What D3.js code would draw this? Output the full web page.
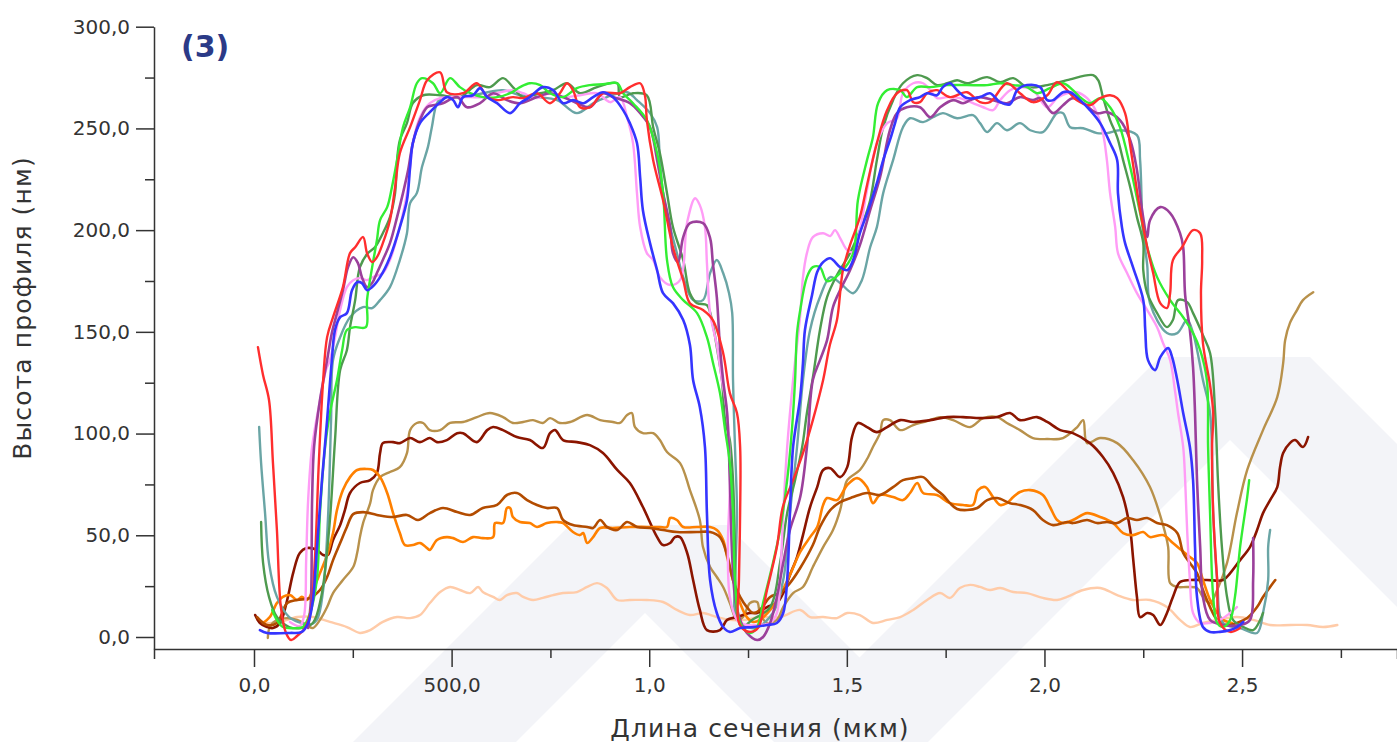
<!DOCTYPE html>
<html><head><meta charset="utf-8">
<style>
    body { margin: 0; background: #fff; font-family: "DejaVu Sans", sans-serif; }
    svg { display: block; }
    .axis text { font-size: 20px; fill: #333; font-family: "DejaVu Sans", sans-serif; }
    .axis path, .axis line { stroke: #333; stroke-width: 1.5; }
    .title { font-size: 25px; fill: #333; letter-spacing: 1.1px; }
</style>
<script src="https://cdn.jsdelivr.net/npm/d3@7"></script>
</head>
<body>
<svg id="chart"></svg>
<script>
// axis ticks
const xMajor = [0, 0.5, 1, 1.5, 2, 2.5]
const xLabels = ["0,0", "500,0", "1,0", "1,5", "2,0", "2,5"]
const xMinor = [0.25, 0.75, 1.25, 1.75, 2.25, 2.75]
const yMajor = [0, 50, 100, 150, 200, 250, 300]
const yLabels = ["0,0", "50,0", "100,0", "150,0", "200,0", "250,0", "300,0"]
const yMinor = [25, 75, 125, 175, 225, 275]

// profiles: [length (um), height (nm)]
const peach = [[0.008,8.4],[0.033,6.9],[0.066,7.4],[0.109,9.8],[0.149,9.8],[0.192,7.4],[0.235,4.9],[0.268,2.0],[0.294,3.4],[0.326,7.4],[0.362,9.8],[0.395,9.3],[0.420,10.8],[0.445,16.7],[0.471,22.1],[0.496,24.6],[0.521,23.1],[0.547,21.6],[0.567,24.6],[0.579,22.1],[0.605,19.7],[0.622,18.2],[0.640,20.6],[0.665,21.6],[0.681,19.7],[0.706,18.2],[0.731,19.2],[0.757,20.6],[0.782,21.6],[0.817,22.1],[0.843,24.6],[0.868,26.5],[0.893,24.1],[0.919,18.2],[0.951,18.2],[0.994,18.2],[1.035,17.2],[1.070,13.3],[1.103,10.8],[1.136,11.8],[1.171,9.8],[1.204,8.4],[1.242,8.4],[1.280,9.8],[1.331,9.8],[1.382,13.3],[1.407,9.8],[1.440,9.8],[1.475,9.3],[1.501,11.8],[1.533,10.8],[1.566,6.9],[1.602,8.4],[1.635,9.8],[1.668,13.3],[1.703,18.2],[1.736,21.6],[1.761,19.2],[1.786,24.1],[1.812,25.6],[1.837,24.6],[1.862,23.1],[1.888,24.1],[1.921,22.1],[1.956,21.6],[1.996,19.2],[2.032,18.2],[2.057,19.7],[2.098,23.1],[2.141,24.1],[2.184,20.6],[2.224,18.2],[2.267,18.2],[2.310,14.7],[2.343,8.4],[2.368,4.9],[2.401,6.9],[2.437,8.4],[2.487,9.8],[2.528,8.4],[2.571,5.9],[2.622,5.9],[2.665,5.9],[2.705,4.9],[2.741,5.9]]

const tan = [[0.035,-0.5],[0.040,4.9],[0.058,8.4],[0.084,9.3],[0.109,8.4],[0.134,5.9],[0.149,4.4],[0.167,8.4],[0.185,14.7],[0.200,21.6],[0.225,28.0],[0.251,34.4],[0.261,41.3],[0.268,49.1],[0.276,56.0],[0.294,65.8],[0.301,72.2],[0.319,78.6],[0.344,81.1],[0.369,83.5],[0.387,90.4],[0.395,101.7],[0.412,105.2],[0.428,105.2],[0.445,101.7],[0.471,101.7],[0.496,105.2],[0.529,105.7],[0.564,108.1],[0.597,110.1],[0.630,108.1],[0.655,105.2],[0.681,105.7],[0.706,106.6],[0.731,105.2],[0.749,107.6],[0.774,105.2],[0.800,105.7],[0.843,109.1],[0.876,106.6],[0.908,105.7],[0.926,105.2],[0.944,109.1],[0.956,110.1],[0.964,103.2],[0.984,100.2],[1.010,100.2],[1.027,96.8],[1.045,90.9],[1.078,85.5],[1.103,72.2],[1.128,57.5],[1.136,44.2],[1.154,34.4],[1.171,29.5],[1.187,24.6],[1.204,16.7],[1.222,8.4],[1.237,9.8],[1.255,16.7],[1.273,17.2],[1.280,11.8],[1.298,6.9],[1.323,8.4],[1.339,14.7],[1.364,21.6],[1.389,24.6],[1.414,34.4],[1.440,44.2],[1.465,52.6],[1.483,62.4],[1.490,68.8],[1.501,77.1],[1.533,82.1],[1.554,88.5],[1.566,93.4],[1.584,100.2],[1.592,106.6],[1.609,106.6],[1.635,101.7],[1.668,104.2],[1.703,106.1],[1.736,108.1],[1.769,106.6],[1.812,103.2],[1.845,107.6],[1.880,108.1],[1.905,105.2],[1.938,101.7],[1.971,97.8],[2.007,97.3],[2.047,97.8],[2.083,103.2],[2.098,106.6],[2.108,95.3],[2.141,97.8],[2.184,95.3],[2.224,87.0],[2.267,73.7],[2.300,55.0],[2.313,44.2],[2.318,26.5],[2.336,24.6],[2.361,24.6],[2.386,24.1],[2.401,19.7],[2.419,16.7],[2.437,23.1],[2.462,36.4],[2.487,60.9],[2.513,82.1],[2.553,101.7],[2.589,117.9],[2.604,134.6],[2.609,145.9],[2.621,154.3],[2.639,160.7],[2.654,165.6],[2.680,169.5]]

const maroon = [[0.003,10.8],[0.015,6.9],[0.033,4.9],[0.048,4.4],[0.066,6.9],[0.084,18.2],[0.099,31.4],[0.116,41.3],[0.134,43.7],[0.159,42.8],[0.175,40.3],[0.187,40.3],[0.200,47.7],[0.218,55.0],[0.230,62.4],[0.243,70.8],[0.268,75.7],[0.294,77.1],[0.311,80.6],[0.319,90.4],[0.326,95.3],[0.352,95.8],[0.369,95.3],[0.395,97.8],[0.420,95.8],[0.445,97.8],[0.463,95.8],[0.488,96.8],[0.514,100.2],[0.529,100.2],[0.564,95.8],[0.590,101.7],[0.605,103.2],[0.630,101.7],[0.665,98.3],[0.698,96.8],[0.731,92.9],[0.749,100.2],[0.762,101.7],[0.782,96.8],[0.817,95.8],[0.850,94.3],[0.883,90.4],[0.919,82.1],[0.951,75.7],[0.984,63.9],[1.020,49.1],[1.035,45.2],[1.053,46.2],[1.065,49.1],[1.078,49.1],[1.096,41.3],[1.111,28.0],[1.128,13.3],[1.146,3.4],[1.179,3.4],[1.197,8.4],[1.222,9.8],[1.255,11.8],[1.273,11.8],[1.298,14.7],[1.323,16.7],[1.339,21.6],[1.356,30.5],[1.374,39.3],[1.389,50.1],[1.407,63.9],[1.425,73.7],[1.440,82.1],[1.458,83.0],[1.483,78.6],[1.501,83.5],[1.513,98.3],[1.528,105.2],[1.551,103.2],[1.576,100.7],[1.602,103.2],[1.635,106.6],[1.668,105.7],[1.711,106.6],[1.754,108.1],[1.794,108.1],[1.837,107.6],[1.880,108.1],[1.913,110.1],[1.938,106.6],[1.981,108.1],[2.007,105.7],[2.040,101.7],[2.072,100.2],[2.115,95.3],[2.148,88.5],[2.174,80.6],[2.199,68.8],[2.217,52.6],[2.224,39.3],[2.234,19.7],[2.242,9.8],[2.260,11.8],[2.275,10.8],[2.293,5.9],[2.310,11.8],[2.325,19.7],[2.343,27.0],[2.368,28.0],[2.411,28.0],[2.452,28.0],[2.470,31.4],[2.495,37.8],[2.520,44.2],[2.538,52.6],[2.553,60.9],[2.571,67.3],[2.589,73.7],[2.596,83.5],[2.604,90.4],[2.621,95.3],[2.634,96.8],[2.654,93.4],[2.667,98.3]]

const orange = [[0.023,6.9],[0.040,9.8],[0.058,16.7],[0.073,19.7],[0.091,20.6],[0.109,18.2],[0.121,19.7],[0.134,18.2],[0.149,23.1],[0.167,31.4],[0.185,40.3],[0.200,51.1],[0.210,62.4],[0.225,72.2],[0.243,78.6],[0.261,82.1],[0.286,82.6],[0.301,82.1],[0.319,78.6],[0.337,70.8],[0.352,60.9],[0.369,51.1],[0.382,45.2],[0.402,45.2],[0.420,46.2],[0.438,43.7],[0.445,42.8],[0.463,47.7],[0.488,49.1],[0.504,48.6],[0.529,46.7],[0.554,49.1],[0.579,48.6],[0.605,49.1],[0.610,56.0],[0.630,56.0],[0.640,63.4],[0.648,63.4],[0.655,59.0],[0.673,56.5],[0.698,56.0],[0.716,54.1],[0.741,56.0],[0.767,56.5],[0.782,56.0],[0.807,51.6],[0.825,50.1],[0.833,51.1],[0.843,46.2],[0.858,49.1],[0.876,53.6],[0.908,53.6],[0.951,54.1],[0.994,54.1],[1.027,54.1],[1.045,54.1],[1.053,58.5],[1.070,57.5],[1.086,54.1],[1.121,54.1],[1.154,54.1],[1.171,52.6],[1.187,47.7],[1.197,39.3],[1.212,28.0],[1.230,16.7],[1.247,9.8],[1.263,7.4],[1.280,8.4],[1.306,13.3],[1.331,20.6],[1.356,30.5],[1.382,41.8],[1.407,49.1],[1.425,54.1],[1.440,64.9],[1.450,68.3],[1.475,67.3],[1.501,74.7],[1.526,78.1],[1.551,73.7],[1.566,65.8],[1.584,69.8],[1.617,68.8],[1.642,67.3],[1.660,70.8],[1.678,75.7],[1.693,70.8],[1.728,69.8],[1.761,65.8],[1.794,64.9],[1.819,64.9],[1.832,72.2],[1.850,73.7],[1.870,68.8],[1.888,64.9],[1.905,65.8],[1.921,68.8],[1.938,71.3],[1.964,72.2],[1.996,69.8],[2.014,63.9],[2.032,57.5],[2.047,56.0],[2.072,57.5],[2.108,60.9],[2.141,59.0],[2.174,56.0],[2.199,51.1],[2.224,50.1],[2.250,51.6],[2.267,49.1],[2.300,50.1],[2.325,46.2],[2.343,43.2],[2.368,39.3],[2.386,36.4],[2.401,28.0],[2.419,18.2],[2.437,11.8],[2.452,8.4],[2.475,6.9]]

const brown = [[0.008,9.8],[0.033,5.9],[0.058,6.9],[0.084,16.7],[0.109,18.2],[0.142,19.2],[0.167,23.1],[0.185,29.5],[0.200,37.8],[0.218,46.2],[0.235,54.1],[0.251,60.4],[0.276,61.4],[0.311,60.0],[0.352,59.0],[0.387,60.0],[0.415,57.5],[0.445,60.9],[0.478,63.4],[0.514,61.4],[0.547,60.0],[0.579,63.4],[0.615,64.9],[0.640,69.8],[0.665,70.8],[0.691,67.3],[0.716,64.9],[0.741,63.4],[0.767,63.4],[0.782,57.5],[0.807,55.0],[0.843,54.1],[0.858,53.6],[0.876,57.5],[0.893,54.1],[0.919,52.6],[0.944,56.5],[0.969,54.1],[1.002,53.6],[1.035,52.6],[1.070,51.6],[1.121,51.6],[1.154,51.6],[1.179,49.1],[1.197,40.3],[1.212,28.0],[1.230,19.7],[1.247,14.7],[1.263,11.8],[1.280,13.3],[1.306,19.7],[1.331,21.6],[1.356,26.5],[1.382,33.9],[1.414,45.2],[1.432,54.1],[1.458,62.4],[1.483,66.3],[1.516,68.8],[1.551,70.8],[1.584,69.8],[1.617,73.7],[1.642,77.1],[1.668,78.1],[1.693,78.6],[1.718,73.7],[1.743,69.8],[1.761,65.8],[1.779,62.9],[1.804,62.4],[1.830,63.4],[1.855,67.3],[1.880,68.3],[1.913,65.8],[1.938,64.9],[1.971,62.4],[1.996,57.5],[2.022,55.0],[2.057,56.5],[2.072,56.0],[2.108,57.5],[2.133,56.0],[2.158,56.5],[2.184,56.0],[2.209,58.5],[2.234,57.5],[2.260,58.5],[2.285,56.0],[2.310,55.0],[2.336,51.1],[2.351,41.3],[2.368,36.4],[2.386,31.4],[2.401,23.1],[2.419,14.7],[2.437,8.4],[2.462,5.9],[2.487,6.9],[2.513,9.3],[2.538,14.7],[2.553,19.7],[2.571,24.6],[2.584,28.0]]

const teal = [[0.013,103.2],[0.018,85.5],[0.028,60.9],[0.038,36.4],[0.058,19.7],[0.089,9.8],[0.119,6.9],[0.139,5.9],[0.159,8.4],[0.175,23.1],[0.187,57.5],[0.195,106.6],[0.200,136.1],[0.218,147.4],[0.243,157.2],[0.276,162.2],[0.299,161.7],[0.319,165.6],[0.344,172.0],[0.369,185.3],[0.387,198.5],[0.395,213.3],[0.412,218.2],[0.425,231.0],[0.440,240.8],[0.450,250.6],[0.463,262.4],[0.478,265.4],[0.529,265.4],[0.579,267.3],[0.630,268.8],[0.673,266.3],[0.716,265.4],[0.767,263.9],[0.817,257.5],[0.858,262.4],[0.893,265.4],[0.944,267.8],[0.969,263.9],[1.002,257.5],[1.020,250.6],[1.027,234.4],[1.035,218.2],[1.053,201.5],[1.070,188.7],[1.086,176.9],[1.111,165.6],[1.136,165.6],[1.154,178.9],[1.171,185.3],[1.187,178.9],[1.202,169.0],[1.210,159.2],[1.212,126.3],[1.217,93.4],[1.222,60.9],[1.217,28.0],[1.217,11.8],[1.230,6.9],[1.268,4.4],[1.313,11.8],[1.339,28.0],[1.356,60.9],[1.374,93.4],[1.389,126.3],[1.407,150.9],[1.432,167.1],[1.458,176.9],[1.483,174.0],[1.516,169.0],[1.538,175.4],[1.559,191.6],[1.576,201.5],[1.592,218.2],[1.617,234.4],[1.642,250.6],[1.660,255.0],[1.693,253.1],[1.718,255.5],[1.743,257.5],[1.779,255.0],[1.819,256.5],[1.837,252.6],[1.855,248.2],[1.880,252.6],[1.905,249.1],[1.938,252.6],[1.964,249.1],[1.996,248.2],[2.032,257.5],[2.047,257.5],[2.065,250.6],[2.098,250.1],[2.133,247.7],[2.158,247.7],[2.191,249.1],[2.234,246.7],[2.242,234.4],[2.249,200.0],[2.260,182.8],[2.267,164.1],[2.310,149.4],[2.336,149.4],[2.361,155.8],[2.376,149.4],[2.401,126.3],[2.419,110.1],[2.427,60.9],[2.437,28.0],[2.452,6.9],[2.495,4.4],[2.538,2.0],[2.553,11.8],[2.566,28.0],[2.566,44.2],[2.571,52.6]]

const darkGreen = [[0.018,56.5],[0.023,36.4],[0.038,19.7],[0.058,9.8],[0.089,4.9],[0.119,4.4],[0.149,6.9],[0.170,19.7],[0.190,52.6],[0.205,96.8],[0.218,131.2],[0.235,141.0],[0.243,152.3],[0.256,165.6],[0.268,181.8],[0.288,188.7],[0.306,191.6],[0.326,198.5],[0.344,206.4],[0.357,218.2],[0.362,234.4],[0.369,244.2],[0.387,252.6],[0.402,262.4],[0.428,266.3],[0.471,266.3],[0.521,265.4],[0.564,271.3],[0.597,270.3],[0.630,274.7],[0.655,270.3],[0.681,265.4],[0.724,267.3],[0.757,268.8],[0.792,272.2],[0.825,267.3],[0.868,270.3],[0.919,272.2],[0.926,265.4],[0.959,267.3],[0.994,266.3],[1.010,250.6],[1.027,237.8],[1.045,218.2],[1.060,201.5],[1.086,185.3],[1.103,169.0],[1.121,164.1],[1.146,163.1],[1.161,153.3],[1.171,142.5],[1.184,126.3],[1.192,106.6],[1.204,96.8],[1.212,77.1],[1.217,44.2],[1.222,11.8],[1.235,4.9],[1.260,8.4],[1.306,14.7],[1.331,36.4],[1.349,60.9],[1.369,77.1],[1.387,93.4],[1.399,110.1],[1.415,128.7],[1.432,150.9],[1.450,167.1],[1.475,177.9],[1.508,188.7],[1.541,203.9],[1.559,214.7],[1.576,234.4],[1.592,250.6],[1.617,263.9],[1.642,272.2],[1.678,276.2],[1.703,274.7],[1.728,271.3],[1.754,272.2],[1.779,273.7],[1.804,272.2],[1.855,275.2],[1.888,272.7],[1.921,274.7],[1.956,270.3],[2.007,271.3],[2.057,273.7],[2.123,276.2],[2.136,273.7],[2.148,265.4],[2.166,254.1],[2.184,245.7],[2.199,234.4],[2.217,221.1],[2.234,206.4],[2.250,193.6],[2.250,180.3],[2.260,169.0],[2.285,159.2],[2.310,152.3],[2.325,155.8],[2.338,165.6],[2.361,164.6],[2.376,159.2],[2.401,148.4],[2.419,139.6],[2.432,110.1],[2.439,77.1],[2.449,44.2],[2.462,19.7],[2.477,8.4],[2.503,4.9],[2.528,3.4],[2.546,8.4],[2.553,11.8]]

const pink = [[0.091,7.4],[0.116,5.4],[0.127,10.8],[0.132,37.8],[0.137,67.3],[0.147,93.4],[0.167,116.5],[0.182,131.2],[0.192,136.1],[0.205,147.4],[0.218,160.7],[0.235,172.0],[0.251,175.4],[0.268,176.4],[0.286,175.4],[0.301,176.9],[0.326,178.9],[0.344,185.3],[0.362,196.6],[0.375,206.4],[0.387,218.2],[0.395,231.0],[0.402,242.8],[0.420,255.5],[0.445,262.4],[0.471,264.9],[0.504,265.4],[0.547,265.4],[0.579,265.4],[0.615,267.3],[0.655,268.8],[0.681,267.3],[0.716,264.9],[0.749,267.3],[0.782,265.4],[0.825,266.3],[0.868,267.3],[0.901,262.9],[0.926,265.4],[0.944,255.5],[0.959,242.8],[0.969,218.2],[0.977,201.5],[0.994,188.7],[1.010,185.3],[1.027,176.9],[1.053,173.0],[1.078,175.4],[1.096,203.9],[1.116,215.7],[1.128,212.3],[1.141,201.5],[1.146,183.8],[1.154,159.2],[1.171,143.5],[1.184,126.3],[1.197,110.1],[1.204,77.1],[1.199,44.2],[1.204,19.7],[1.222,8.4],[1.247,5.9],[1.280,5.9],[1.306,6.9],[1.323,11.8],[1.331,28.0],[1.339,60.9],[1.349,93.4],[1.364,126.3],[1.382,158.2],[1.389,176.9],[1.399,188.7],[1.414,196.6],[1.440,198.5],[1.458,197.1],[1.470,200.0],[1.483,196.1],[1.501,190.2],[1.516,189.2],[1.533,200.0],[1.551,219.7],[1.576,242.8],[1.602,252.6],[1.627,255.0],[1.642,267.3],[1.668,272.2],[1.693,272.2],[1.711,268.8],[1.728,264.9],[1.754,265.4],[1.786,264.9],[1.819,262.4],[1.845,260.4],[1.870,259.0],[1.888,263.9],[1.913,268.8],[1.938,270.3],[1.971,268.8],[2.007,260.4],[2.032,264.9],[2.057,267.3],[2.082,267.8],[2.108,264.9],[2.133,257.5],[2.148,247.7],[2.158,234.4],[2.166,218.2],[2.179,201.5],[2.186,188.7],[2.209,178.9],[2.234,169.0],[2.260,160.7],[2.285,152.3],[2.300,144.5],[2.318,136.1],[2.330,121.4],[2.338,110.1],[2.351,93.4],[2.356,77.1],[2.361,52.6],[2.368,28.0],[2.376,11.8],[2.394,6.9],[2.419,6.9],[2.444,8.4],[2.470,11.8],[2.487,14.7]]

const purple = [[0.137,4.4],[0.144,18.2],[0.147,67.3],[0.152,93.4],[0.167,116.5],[0.185,136.1],[0.197,149.4],[0.210,159.2],[0.225,170.5],[0.238,181.8],[0.251,186.7],[0.263,183.8],[0.273,176.9],[0.286,172.0],[0.299,174.0],[0.311,178.9],[0.326,185.3],[0.344,193.6],[0.362,206.4],[0.377,218.2],[0.390,229.5],[0.402,242.8],[0.420,254.1],[0.438,260.4],[0.453,261.4],[0.478,262.4],[0.514,265.4],[0.539,260.4],[0.572,262.4],[0.605,267.3],[0.640,263.9],[0.673,262.4],[0.716,265.4],[0.749,267.3],[0.782,265.4],[0.817,262.4],[0.850,260.4],[0.883,267.3],[0.908,265.4],[0.951,262.4],[0.977,257.5],[1.002,250.6],[1.020,234.4],[1.035,218.2],[1.053,201.5],[1.060,188.7],[1.073,184.3],[1.086,196.6],[1.103,203.4],[1.136,203.4],[1.154,196.1],[1.161,183.8],[1.171,167.1],[1.179,142.5],[1.187,126.3],[1.197,110.1],[1.204,77.1],[1.209,44.2],[1.217,19.7],[1.230,8.4],[1.247,2.0],[1.273,-1.5],[1.288,0.0],[1.306,6.9],[1.323,19.7],[1.339,36.4],[1.356,52.6],[1.382,68.8],[1.399,93.4],[1.414,126.3],[1.432,136.1],[1.450,145.9],[1.465,162.2],[1.483,170.5],[1.508,180.3],[1.533,192.6],[1.559,209.8],[1.584,226.0],[1.609,249.1],[1.627,257.5],[1.652,260.4],[1.685,260.4],[1.711,255.5],[1.736,260.4],[1.769,263.9],[1.794,262.4],[1.812,263.9],[1.837,265.4],[1.870,263.9],[1.905,262.4],[1.938,265.4],[1.971,263.9],[1.989,264.9],[2.022,257.5],[2.047,261.4],[2.072,264.9],[2.098,262.4],[2.133,257.5],[2.158,258.0],[2.191,254.1],[2.217,244.2],[2.234,229.5],[2.247,209.8],[2.260,196.6],[2.267,204.9],[2.293,211.3],[2.318,208.4],[2.343,198.5],[2.351,191.6],[2.356,168.1],[2.368,150.9],[2.376,132.7],[2.381,110.1],[2.386,77.1],[2.394,44.2],[2.401,19.7],[2.419,8.4],[2.452,5.9],[2.495,5.9],[2.520,8.4],[2.528,28.0],[2.528,48.6]]

const green = [[0.046,13.3],[0.058,8.4],[0.073,4.9],[0.109,4.4],[0.124,4.9],[0.142,11.8],[0.159,28.0],[0.167,60.9],[0.180,93.4],[0.192,110.1],[0.210,126.3],[0.223,141.0],[0.235,150.9],[0.256,152.3],[0.283,152.3],[0.286,165.6],[0.299,181.8],[0.311,195.1],[0.319,204.9],[0.337,211.3],[0.349,221.1],[0.362,234.4],[0.377,250.6],[0.395,260.4],[0.412,272.2],[0.425,274.7],[0.453,272.2],[0.471,267.3],[0.496,274.7],[0.521,270.3],[0.547,267.3],[0.579,265.4],[0.615,265.4],[0.648,267.3],[0.673,270.3],[0.698,272.2],[0.724,271.3],[0.749,267.3],[0.782,265.4],[0.817,269.8],[0.850,271.3],[0.883,271.7],[0.919,272.2],[0.934,267.3],[0.959,262.4],[0.994,254.1],[1.020,237.8],[1.035,218.2],[1.045,185.3],[1.060,172.0],[1.086,165.6],[1.121,159.2],[1.146,147.4],[1.161,135.1],[1.179,119.9],[1.192,101.7],[1.204,85.5],[1.212,60.9],[1.217,28.0],[1.230,6.9],[1.255,2.0],[1.273,4.9],[1.288,16.7],[1.313,36.4],[1.331,52.6],[1.349,77.1],[1.361,101.7],[1.369,126.3],[1.374,149.4],[1.382,160.7],[1.399,176.9],[1.414,181.8],[1.432,181.8],[1.450,174.9],[1.483,178.9],[1.516,188.7],[1.528,214.7],[1.551,234.4],[1.566,245.7],[1.579,262.4],[1.602,268.8],[1.635,268.8],[1.652,265.4],[1.678,270.3],[1.711,270.3],[1.754,271.3],[1.804,271.3],[1.855,271.3],[1.888,272.2],[1.921,271.3],[1.956,270.3],[1.981,267.3],[2.014,269.8],[2.047,272.2],[2.072,268.8],[2.090,265.4],[2.115,262.4],[2.141,264.9],[2.166,260.4],[2.191,250.6],[2.217,231.0],[2.242,208.4],[2.260,191.6],[2.285,176.9],[2.318,165.6],[2.351,157.2],[2.376,149.4],[2.394,141.0],[2.411,126.3],[2.414,93.4],[2.419,60.9],[2.427,19.7],[2.437,6.9],[2.452,4.9],[2.470,8.4],[2.482,19.7],[2.495,44.2],[2.513,68.8],[2.518,77.1]]

const red = [[0.010,142.5],[0.023,128.7],[0.038,116.5],[0.048,85.5],[0.058,52.6],[0.068,14.7],[0.081,2.0],[0.094,-1.5],[0.109,0.5],[0.129,4.4],[0.144,13.3],[0.154,37.8],[0.164,85.5],[0.175,126.3],[0.185,147.4],[0.200,157.2],[0.225,172.0],[0.243,188.7],[0.256,191.6],[0.276,196.6],[0.286,188.7],[0.299,184.3],[0.311,186.7],[0.326,193.6],[0.344,204.9],[0.357,221.1],[0.369,237.8],[0.395,250.6],[0.420,263.9],[0.438,273.7],[0.471,277.6],[0.488,267.8],[0.529,267.3],[0.564,272.2],[0.590,265.4],[0.615,263.9],[0.655,265.4],[0.681,264.9],[0.716,267.3],[0.749,262.4],[0.774,267.3],[0.792,272.2],[0.807,268.8],[0.825,260.4],[0.850,260.4],[0.883,267.3],[0.926,267.3],[0.951,270.3],[0.977,272.2],[0.989,266.3],[0.994,254.1],[1.010,234.4],[1.035,214.7],[1.060,191.6],[1.086,175.4],[1.103,164.1],[1.136,160.7],[1.161,155.8],[1.187,139.6],[1.204,119.9],[1.222,110.1],[1.230,93.4],[1.230,60.9],[1.227,28.0],[1.225,8.4],[1.235,4.4],[1.255,2.5],[1.275,4.4],[1.298,23.1],[1.323,44.2],[1.338,63.9],[1.364,77.1],[1.389,90.4],[1.414,106.6],[1.440,126.3],[1.457,143.5],[1.475,155.8],[1.490,180.3],[1.508,192.6],[1.533,206.4],[1.551,222.1],[1.576,242.8],[1.602,259.0],[1.627,267.3],[1.652,268.8],[1.668,262.9],[1.685,262.9],[1.703,267.3],[1.728,268.8],[1.761,265.4],[1.804,267.8],[1.837,262.9],[1.862,262.9],[1.905,272.2],[1.938,267.3],[1.971,262.9],[2.007,266.3],[2.032,272.7],[2.082,263.9],[2.115,261.4],[2.141,264.9],[2.166,266.3],[2.184,264.9],[2.204,257.5],[2.216,242.8],[2.229,226.0],[2.242,209.8],[2.260,191.6],[2.275,178.9],[2.293,164.1],[2.310,161.7],[2.318,169.0],[2.325,185.3],[2.348,191.6],[2.376,200.0],[2.394,198.5],[2.399,185.3],[2.396,169.0],[2.401,144.5],[2.419,123.8],[2.427,110.1],[2.424,93.4],[2.427,60.9],[2.437,28.0],[2.444,6.9],[2.470,2.5],[2.495,4.4]]

const blue = [[0.015,3.4],[0.033,2.0],[0.091,2.0],[0.121,2.5],[0.137,6.9],[0.149,18.2],[0.159,42.8],[0.172,77.1],[0.185,106.6],[0.197,136.1],[0.205,150.9],[0.218,157.2],[0.235,159.2],[0.248,170.5],[0.261,174.4],[0.273,174.0],[0.286,170.5],[0.299,172.0],[0.319,176.9],[0.344,186.7],[0.369,201.5],[0.387,214.7],[0.395,231.0],[0.402,242.8],[0.420,252.6],[0.445,258.0],[0.471,262.9],[0.488,265.4],[0.504,263.9],[0.516,260.4],[0.529,265.4],[0.554,266.3],[0.572,269.8],[0.590,265.4],[0.615,262.4],[0.648,257.5],[0.673,262.4],[0.698,265.4],[0.731,270.3],[0.757,268.8],[0.782,262.4],[0.807,263.9],[0.833,262.4],[0.858,265.4],[0.883,267.8],[0.908,265.4],[0.934,259.0],[0.951,252.6],[0.969,242.8],[0.977,226.0],[0.984,209.8],[1.002,193.6],[1.020,180.3],[1.035,169.0],[1.060,164.1],[1.086,155.8],[1.103,143.5],[1.111,126.3],[1.128,113.0],[1.141,93.4],[1.146,60.9],[1.154,28.0],[1.171,11.8],[1.187,4.9],[1.204,2.5],[1.230,4.4],[1.263,4.9],[1.298,5.9],[1.323,6.9],[1.339,11.8],[1.349,28.0],[1.356,60.9],[1.364,93.4],[1.382,117.9],[1.389,134.6],[1.394,150.9],[1.412,168.1],[1.425,179.4],[1.440,184.3],[1.458,186.2],[1.483,181.8],[1.501,180.3],[1.516,185.3],[1.533,198.5],[1.554,209.8],[1.576,223.1],[1.592,234.4],[1.609,244.2],[1.622,252.6],[1.635,260.4],[1.660,263.9],[1.685,265.4],[1.703,267.3],[1.728,266.3],[1.743,270.3],[1.761,272.2],[1.779,268.8],[1.804,264.9],[1.837,265.4],[1.862,267.3],[1.888,262.9],[1.913,261.9],[1.931,268.8],[1.956,271.3],[1.989,270.3],[2.007,263.9],[2.022,263.9],[2.047,267.8],[2.065,267.8],[2.090,263.9],[2.115,259.0],[2.141,252.6],[2.166,242.8],[2.184,234.4],[2.186,218.2],[2.196,201.5],[2.204,193.6],[2.224,181.8],[2.250,165.6],[2.255,150.9],[2.262,136.1],[2.280,131.2],[2.293,137.6],[2.313,142.0],[2.323,137.6],[2.336,126.3],[2.351,110.1],[2.368,93.4],[2.376,77.1],[2.381,44.2],[2.386,19.7],[2.401,4.9],[2.419,2.5],[2.444,2.5],[2.470,3.4],[2.487,4.9],[2.503,7.4]]

// drawing order, bottom to top
const series = [
    {name: "peach", data: peach, color: "#ffcba8", width: 2.4},
    {name: "tan", data: tan, color: "#b8914b", width: 2.4},
    {name: "maroon", data: maroon, color: "#8b1500", width: 2.6},
    {name: "orange", data: orange, color: "#ff8000", width: 2.6},
    {name: "brown", data: brown, color: "#b34c00", width: 2.6},
    {name: "teal", data: teal, color: "#6aa5a5", width: 2.4},
    {name: "darkGreen", data: darkGreen, color: "#4e9a4e", width: 2.4},
    {name: "pink", data: pink, color: "#ff9cf6", width: 2.4},
    {name: "purple", data: purple, color: "#9b409b", width: 2.6},
    {name: "green", data: green, color: "#33ee33", width: 2.4},
    {name: "red", data: red, color: "#ff2e2e", width: 2.4},
    {name: "blue", data: blue, color: "#3535ff", width: 2.6}
]

function drawChart() {
    let width = 1397
    let height = 742
    let svg = d3.select('#chart').attr('width', width).attr('height', height)

    // faint chevron watermark behind the plot
    let bg = svg.append('g')
    let chevrons = [
        {outer: [[353,742],[570,525],[727,525],[944,742]], inner: [[516,742],[645,613],[774,742]]},
        {outer: [[775,742],[1160,357],[1310,357],[1695,742]], inner: [[928,742],[1230,440],[1532,742]]}
    ]
    chevrons.forEach(c => bg.append('polygon').attr('points', c.outer.join(' ')).attr('fill', '#f3f4f8'))
    chevrons.forEach(c => bg.append('polygon').attr('points', c.inner.join(' ')).attr('fill', '#ffffff'))

    let x = d3.scaleLinear().domain([-0.253, 2.892]).range([154, 1397])
    let y = d3.scaleLinear().domain([-5.9, 300]).range([649, 26.7])

    // y axis
    svg.append('g').attr('class', 'axis')
        .attr('transform', 'translate(154,0)')
        .call(d3.axisLeft(y).tickValues(yMajor).tickFormat((d, i) => yLabels[i])
            .tickSize(18).tickPadding(6).tickSizeOuter(0))
    svg.append('g').attr('class', 'axis')
        .attr('transform', 'translate(154,0)')
        .call(d3.axisLeft(y).tickValues(yMinor).tickFormat('').tickSize(9).tickSizeOuter(0))
        .select('.domain').remove()

    // x axis
    svg.append('g').attr('class', 'axis')
        .attr('transform', `translate(0,${y(-5.9)})`)
        .call(d3.axisBottom(x).tickValues(xMajor).tickFormat((d, i) => xLabels[i])
            .tickSize(18).tickPadding(11).tickSizeOuter(10))
    svg.append('g').attr('class', 'axis')
        .attr('transform', `translate(0,${y(-5.9)})`)
        .call(d3.axisBottom(x).tickValues(xMinor).tickFormat('').tickSize(9).tickSizeOuter(0))
        .select('.domain').remove()

    // profiles
    let line = d3.line()
        .x(d => x(d[0]))
        .y(d => y(d[1]))
        .curve(d3.curveCatmullRom.alpha(0.5))

    svg.append('g').selectAll('path')
        .data(series)
        .enter().append('path')
        .attr('d', d => line(d.data))
        .attr('fill', 'none')
        .attr('stroke', d => d.color)
        .attr('stroke-width', d => d.width)
        .attr('stroke-linejoin', 'round')
        .attr('stroke-linecap', 'round')

    // titles
    svg.append('text').attr('class', 'title')
        .attr('x', 760).attr('y', 737)
        .attr('text-anchor', 'middle')
        .text('Длина сечения (мкм)')
    svg.append('text').attr('class', 'title')
        .attr('transform', 'translate(31,308) rotate(-90)')
        .attr('text-anchor', 'middle')
        .text('Высота профиля (нм)')
    svg.append('text')
        .attr('x', 181).attr('y', 57)
        .style('font-size', '30px').style('font-weight', 'bold').style('fill', '#2b3a87')
        .text('(3)')
}

drawChart()
</script>
</body>
</html>
